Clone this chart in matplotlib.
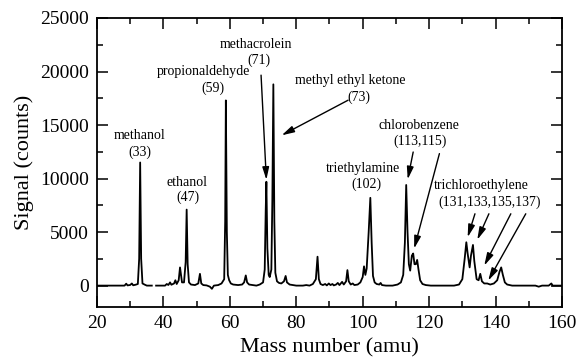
import numpy as np
import matplotlib
matplotlib.use("Agg")
import matplotlib.pyplot as plt
from matplotlib.ticker import MultipleLocator

# Mass spectrum trace: vertices (mass in amu, signal in counts); NaN marks a gap in the scan
mass = [
    20, 28.3, 28.8, 29.2, 30.0, 30.5, 30.9, 31.6, 32.3, 32.7, 33.0, 33.3, 33.7, 34.3, 35.0, 36.5,
    37.1,
    37.8, 40.5, 41.0, 41.5, 42.0, 42.4, 43.2, 43.6, 44.0, 44.6, 45.0, 45.3, 45.6, 46.2, 46.7,
    47.0, 47.3, 47.7, 48.3, 49.5, 50.5, 51.0, 51.4, 52.0, 53.0, 54.0, 54.6, 55.2, 56.5, 57.5,
    58.3, 58.6, 58.8, 59.1, 59.4, 59.8, 60.3, 61.0, 62.5, 63.7, 64.3, 64.8, 65.2, 65.8, 67.0,
    68.0, 69.0, 70.0, 70.5, 70.8, 71.0, 71.3, 71.7, 72.0, 72.5, 72.8, 73.1, 73.4, 73.7, 74.2,
    74.8, 75.5, 76.3, 76.8, 77.2, 78.0, 79.0, 80.0, 82.0, 83.0, 84.0, 85.0, 85.9, 86.4, 86.8,
    87.3, 88.0, 88.7, 89.2, 89.8, 90.3, 90.9, 91.3, 92.0, 92.5, 93.0, 93.8, 94.3, 95.0, 95.4,
    95.8, 96.4, 97.0, 97.5, 98.5, 99.3, 100.0, 100.4, 100.8, 101.2, 101.8, 102.3, 102.7, 103.1,
    103.6, 104.2, 105.0, 105.4, 105.8, 107.0, 109.0, 110.5, 111.5, 112.2, 112.7, 113.1, 113.5,
    113.9, 114.3, 114.8, 115.2, 115.6, 116.0, 116.4, 116.8, 117.3, 118.0, 119.0, 120.5, 127.5,
    129.0, 130.0, 130.7, 131.2, 131.6, 132.2, 132.6, 133.2, 133.6, 134.3, 134.9, 135.4, 135.9,
    136.6, 137.5, 138.4, 139.5, 140.5, 141.2, 141.7, 142.2, 142.8, 143.5, 145.0, 152.0, 153.0,
    154.0, 156.0, 156.8, 157.2, 160.0,
]
signal = [
    0, 0, 180, 20, 60, 200, 30, 80, 150, 2500, 11500, 2500, 200, 100, 0, 0,
    np.nan,
    0, 0, 150, 60, 300, 80, 200, 500, 150, 500, 1700, 1000, 300, 300, 2200,
    7100, 2000, 300, 100, 50, 200, 1100, 200, 50, 20, -100, -300, 0, 50, 200,
    600, 6000, 17300, 5000, 1000, 500, 200, 100, 50, 100, 300, 950, 300, 100, 50,
    0, 100, 300, 1500, 7000, 9700, 3500, 1000, 800, 1500, 8000, 18800, 6000, 1200, 400,
    250, 200, 400, 900, 300, 100, 50, 0, 0, 50, 0, 150, 600, 2700, 600,
    150, 50, 150, 20, 200, 50, 150, 20, 100, 250, 50, 350, 100, 400, 1450,
    400, 100, 200, 50, 100, 300, 800, 1800, 1000, 1600, 5000, 8200, 4000, 900,
    300, 150, 100, 250, 50, 0, 0, 100, 300, 1000, 4000, 9400, 5000,
    2000, 1400, 2800, 3000, 2000, 2000, 2400, 1500, 500, 150, 50, 0, 0,
    100, 600, 2500, 4050, 3000, 1700, 2800, 3800, 2300, 600, 500, 1100, 400,
    200, 200, 100, 200, 500, 1300, 1700, 1000, 300, 100, 0, 0, -100,
    0, 0, 200, 0, 0,
]

x_ticks = [20, 40, 60, 80, 100, 120, 140, 160]
y_ticks = [0, 5000, 10000, 15000, 20000, 25000]

plt.rcParams["font.family"] = ["Liberation Serif", "DejaVu Serif"]

fig = plt.figure(figsize=(5.79, 3.59), dpi=100)
ax = fig.add_axes([0.1675, 0.1448, 0.8031, 0.8051])

ax.plot(mass, signal, color="black", lw=1.3, solid_joinstyle="round")

ax.set_xlim(20, 160)
ax.set_ylim(-2000, 25000)
ax.set_xticks(x_ticks)
ax.set_yticks(y_ticks)
ax.xaxis.set_minor_locator(MultipleLocator(10))
ax.yaxis.set_minor_locator(MultipleLocator(2500))
ax.tick_params(which="both", direction="in", top=True, right=True, width=1.1,
               labelsize=14, colors="black")
ax.tick_params(which="major", length=8, pad=6)
ax.tick_params(which="minor", length=4.5)
for sp in ax.spines.values():
    sp.set_linewidth(1.3)

ax.set_xlabel("Mass number (amu)", fontsize=16, labelpad=4)
ax.set_ylabel("Signal (counts)", fontsize=16, labelpad=4)

# Compound labels, one text per line
txt = dict(ha="center", va="center", fontsize=10)
labels = [
    (32.7, 14045, "methanol"), (32.9, 12480, "(33)"),
    (47.2, 9670, "ethanol"), (47.3, 8240, "(47)"),
    (52.1, 19970, "propionaldehyde"), (54.9, 18420, "(59)"),
    (67.9, 22540, "methacrolein"), (68.8, 21070, "(71)"),
    (96.2, 19190, "methyl ethyl ketone"), (98.9, 17600, "(73)"),
    (100.1, 10955, "triethylamine"), (101.0, 9457, "(102)"),
    (117.0, 14980, "chlorobenzene"), (117.3, 13480, "(113,115)"),
    (135.6, 9360, "trichloroethylene"), (138.3, 7800, "(131,133,135,137)"),
]
for x, y, s in labels:
    ax.text(x, y, s, **txt)

arrow = dict(arrowstyle="-|>,head_length=0.75,head_width=0.2", color="black",
             lw=1.0, shrinkA=0, shrinkB=0, mutation_scale=10)
arrows = [
    ((69.4, 19660), (71.0, 9880)),
    ((95.6, 17320), (75.6, 14040)),
    ((115.2, 12480), (113.55, 9925)),
    ((123.1, 12330), (115.5, 3460)),
    ((133.8, 6710), (131.6, 4520)),
    ((138.0, 6710), (134.5, 4280)),
    ((144.6, 6710), (136.6, 1870)),
    ((149.1, 6710), (137.8, 470)),
]
for start, end in arrows:
    ax.annotate("", xy=end, xytext=start, arrowprops=arrow)

fig.savefig("out.png", dpi=100)
